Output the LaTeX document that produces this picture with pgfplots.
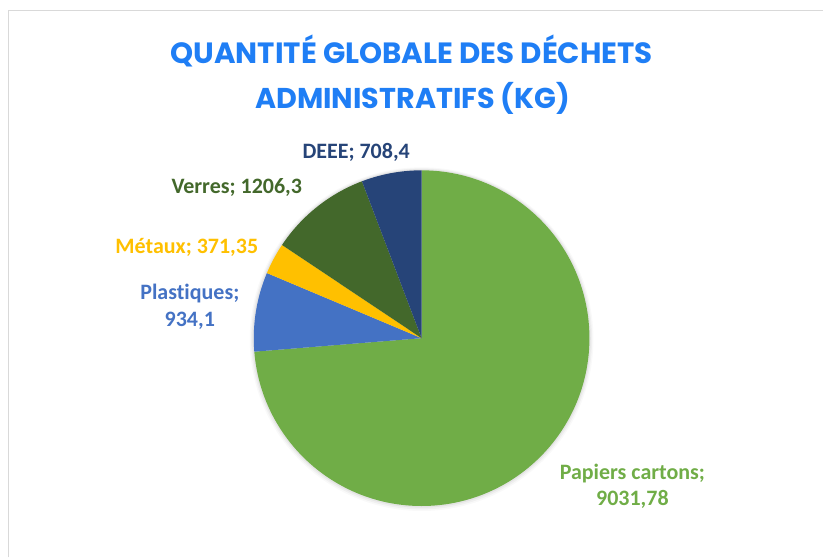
\documentclass[border=0pt]{standalone}
\usepackage{pgfplots}
\pgfplotsset{compat=1.18}
\usepackage{pgfplotstable}
\usepackage{fontspec}
\setmainfont{Carlito}[Ligatures=CommonOff]
\newfontfamily\titlefont{Poppins}
\definecolor{cPap}{HTML}{70AD47}
\definecolor{cPla}{HTML}{4472C4}
\definecolor{cMet}{HTML}{FFC000}
\definecolor{cVer}{HTML}{43682B}
\definecolor{cDee}{HTML}{264478}
\definecolor{cTitle}{HTML}{1F7EF5}
\definecolor{cFrame}{HTML}{D9D9D9}
\pgfplotstableread[col sep=comma]{
name,value
Papiers cartons,9031.78
Plastiques,934.1
Metaux,371.35
Verres,1206.3
DEEE,708.4
}\piedata
\begin{document}
\begin{tikzpicture}
\pgfplotstablegetelem{0}{value}\of\piedata \let\vA\pgfplotsretval
\pgfplotstablegetelem{1}{value}\of\piedata \let\vB\pgfplotsretval
\pgfplotstablegetelem{2}{value}\of\piedata \let\vC\pgfplotsretval
\pgfplotstablegetelem{3}{value}\of\piedata \let\vD\pgfplotsretval
\pgfplotstablegetelem{4}{value}\of\piedata \let\vE\pgfplotsretval
\pgfmathsetmacro\tot{\vA+\vB+\vC+\vD+\vE}
\pgfmathsetmacro\aA{90-360*(\vA/\tot)}
\pgfmathsetmacro\aB{\aA-360*(\vB/\tot)}
\pgfmathsetmacro\aC{\aB-360*(\vC/\tot)}
\pgfmathsetmacro\aD{\aC-360*(\vD/\tot)}
\begin{axis}[
  width=618pt, height=418.5pt, scale only axis,
  xmin=0, xmax=824, ymin=0, ymax=558,
  hide axis, clip=false,
]
\path (axis cs:0,0) rectangle (axis cs:824,558);
% frame
\draw[cFrame, line width=1.2pt] (axis cs:8.5,0) -- (axis cs:8.5,547.5) -- (axis cs:824,547.5);
% soft shadow
\fill[black, opacity=0.025] (axis cs:422,218.5) circle[radius=129pt];
\fill[black, opacity=0.035] (axis cs:422,218.8) circle[radius=128pt];
\fill[black, opacity=0.05] (axis cs:422,219.2) circle[radius=127pt];
% slices
\fill[cPap] (axis cs:422,219.5) -- ++(90:126pt) arc[start angle=90, end angle=\aA, radius=126pt] -- cycle;
\fill[cPla] (axis cs:422,219.5) -- ++(\aA:126pt) arc[start angle=\aA, end angle=\aB, radius=126pt] -- cycle;
\fill[cMet] (axis cs:422,219.5) -- ++(\aB:126pt) arc[start angle=\aB, end angle=\aC, radius=126pt] -- cycle;
\fill[cVer] (axis cs:422,219.5) -- ++(\aC:126pt) arc[start angle=\aC, end angle=\aD, radius=126pt] -- cycle;
\fill[cDee] (axis cs:422,219.5) -- ++(\aD:126pt) arc[start angle=\aD, end angle=-270, radius=126pt] -- cycle;
% title
\node[anchor=base, text=cTitle, font=\titlefont\bfseries\fontsize{22}{26}\selectfont] at (axis cs:412,494.7) {QUANTITÉ GLOBALE DES DÉCHETS};
\node[anchor=base, text=cTitle, font=\titlefont\bfseries\fontsize{21.5}{26}\selectfont] at (axis cs:413,449.5) {ADMINISTRATIFS (KG)};
% labels
\tikzset{lbl/.style={anchor=base, font=\bfseries\fontsize{16.5}{20}\selectfont}}
\node[lbl, text=cPap] at (axis cs:633,78) {Papiers cartons;};
\node[lbl, text=cPap] at (axis cs:633,52) {9031,78};
\node[lbl, text=cPla] at (axis cs:190,258) {Plastiques;};
\node[lbl, text=cPla] at (axis cs:190,231.3) {934,1};
\node[lbl, text=cMet] at (axis cs:187,304.7) {Métaux; 371,35};
\node[lbl, text=cVer] at (axis cs:237,364.7) {Verres; 1206,3};
\node[lbl, text=cDee] at (axis cs:356.5,399.7) {DEEE; 708,4};
\end{axis}
\end{tikzpicture}
\end{document}
